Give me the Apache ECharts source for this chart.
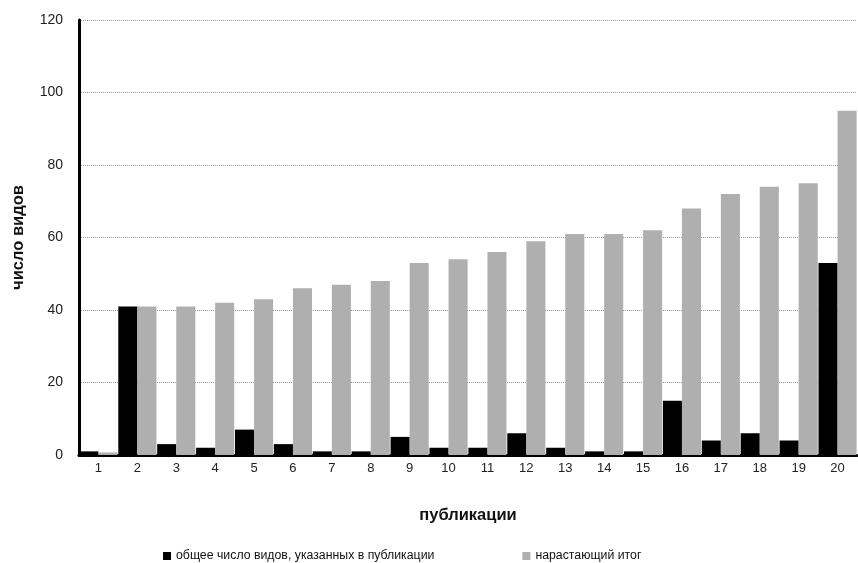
<!DOCTYPE html>
<html><head><meta charset="utf-8">
<script src="https://cdn.jsdelivr.net/npm/echarts@6/dist/echarts.min.js"></script>
<style>html,body{margin:0;padding:0;background:#fff}#c{width:858px;height:563px}</style>
</head><body><div id="c"></div>
<script>
const categories = ['1','2','3','4','5','6','7','8','9','10','11','12','13','14','15','16','17','18','19','20'];
const totalSpecies = [1,41,3,2,7,3,1,1,5,2,2,6,2,1,1,15,4,6,4,53];
const cumulative = [0.7,41,41,42,43,46,47,48,53,54,56,59,61,61,62,68,72,74,75,95];
const seriesNames = ['общее число видов, указанных в публикации','нарастающий итог'];
const yTicks = {min:0, max:120, interval:20};

const font = 'Liberation Sans, Arial, sans-serif';
const chart = echarts.init(document.getElementById('c'));
chart.setOption({
  animation:false,
  backgroundColor:'#fff',
  textStyle:{fontFamily:font},
  grid:{left:79, right:1, top:20, bottom:108},
  legend:{
    top:545, left:158, itemWidth:8, itemHeight:8, itemGap:88,
    textStyle:{fontFamily:font, fontSize:12.3, color:'#111'},
    data:[{name:seriesNames[0], icon:'rect'},{name:seriesNames[1], icon:'rect'}]
  },
  xAxis:{
    type:'category', data:categories,
    name:'публикации', nameLocation:'middle', nameGap:52,
    nameTextStyle:{fontFamily:font, fontSize:16.5, fontWeight:'bold', color:'#111'},
    axisLine:{lineStyle:{color:'#000', width:3}},
    axisTick:{show:false},
    axisLabel:{fontFamily:font, fontSize:13, color:'#222', margin:7}
  },
  yAxis:{
    type:'value', min:yTicks.min, max:yTicks.max, interval:yTicks.interval,
    name:'число видов', nameLocation:'middle', nameGap:52, nameRotate:90,
    nameTextStyle:{fontFamily:font, fontSize:16.5, fontWeight:'bold', color:'#111'},
    axisLine:{show:true, lineStyle:{color:'#000', width:3}},
    axisTick:{show:false},
    axisLabel:{fontFamily:font, fontSize:14, color:'#222', margin:16},
    splitLine:{lineStyle:{color:'#999', type:'dotted', width:1}}
  },
  series:[
    {name:seriesNames[0], type:'bar', data:totalSpecies, barGap:'0%', barCategoryGap:'2%',
     itemStyle:{color:'#000'}},
    {name:seriesNames[1], type:'bar', data:cumulative, barGap:'0%', barCategoryGap:'2%',
     itemStyle:{color:'#afafaf'}}
  ]
});
</script></body></html>
